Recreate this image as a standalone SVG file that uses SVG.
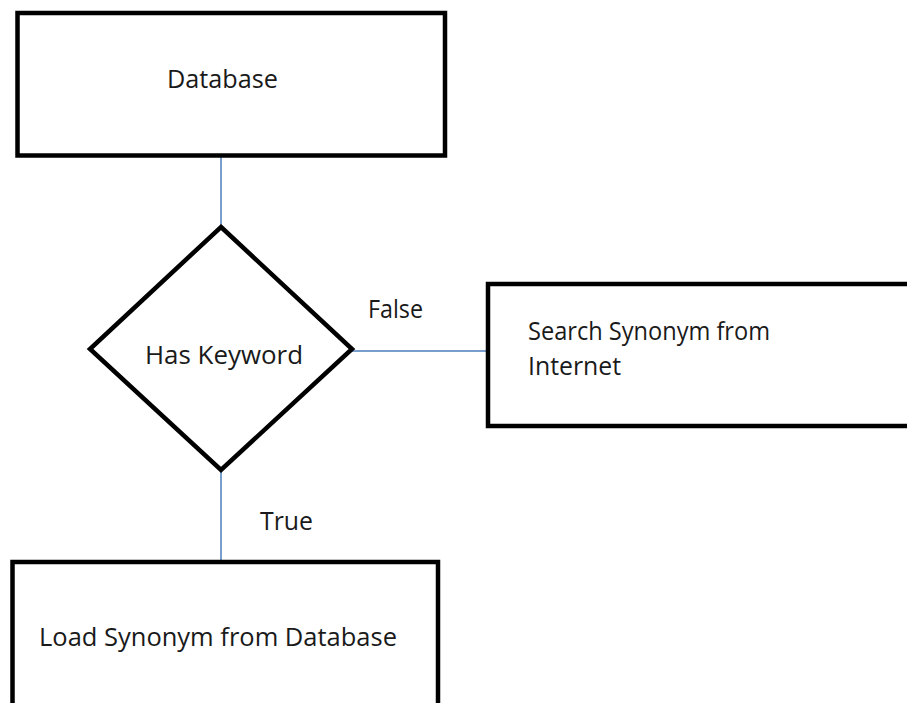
<svg xmlns="http://www.w3.org/2000/svg" width="907" height="703" viewBox="0 0 907 703">
<style>
.box{fill:#fff;stroke:#000;stroke-width:4.5}
.lbl{font-family:"Open Sans","Liberation Sans",sans-serif;font-size:26px;fill:#1a1a1a}
.conn{stroke:#4a7ebb;stroke-width:1.5;fill:none}
</style>
<rect width="907" height="703" fill="#fff"/>
<g id="connectors">
<line class="conn" x1="221" y1="157" x2="221" y2="227"/>
<line class="conn" x1="352" y1="351" x2="488" y2="351"/>
<line class="conn" x1="221" y1="470" x2="221" y2="562"/>
<text class="lbl" x="368" y="318" textLength="55" lengthAdjust="spacingAndGlyphs">False</text>
<text class="lbl" x="260" y="530" textLength="53" lengthAdjust="spacingAndGlyphs">True</text>
</g>
<g id="database">
<rect class="box" x="17.5" y="13" width="427.5" height="142.5"/>
<text class="lbl" x="167" y="88" textLength="111" lengthAdjust="spacingAndGlyphs">Database</text>
</g>
<g id="has-keyword">
<polygon class="box" points="221,227 352,349 221,470 90,349"/>
<text class="lbl" x="145" y="364" textLength="158" lengthAdjust="spacingAndGlyphs">Has Keyword</text>
</g>
<g id="search-internet">
<rect class="box" x="488" y="284" width="430" height="142"/>
<text class="lbl" x="528" y="340" textLength="242" lengthAdjust="spacingAndGlyphs">Search Synonym from</text>
<text class="lbl" x="528" y="375" textLength="93" lengthAdjust="spacingAndGlyphs">Internet</text>
</g>
<g id="load-database">
<rect class="box" x="12.5" y="562" width="425.5" height="160"/>
<text class="lbl" x="39" y="646" textLength="358" lengthAdjust="spacingAndGlyphs">Load Synonym from Database</text>
</g>
</svg>
